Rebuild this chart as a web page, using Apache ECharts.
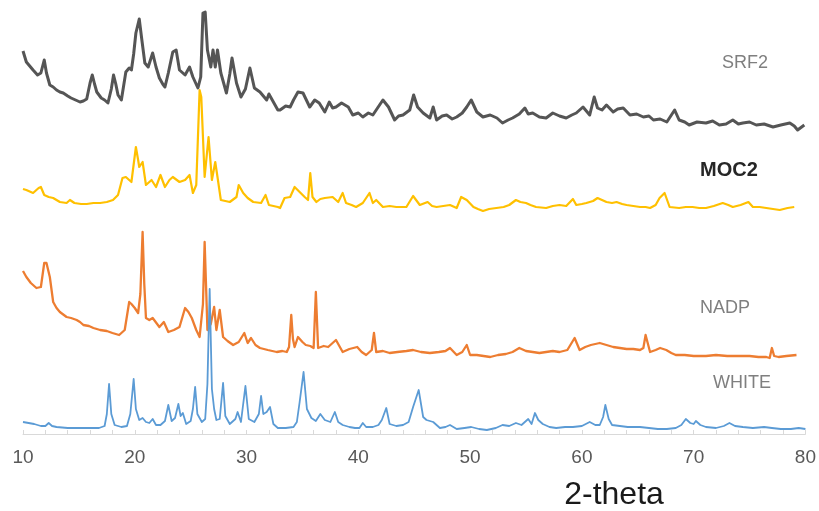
<!DOCTYPE html>
<html>
<head>
<meta charset="utf-8">
<script src="https://cdn.jsdelivr.net/npm/echarts@6/dist/echarts.min.js"></script>
<style>html,body{margin:0;padding:0;background:#fff}#c{width:819px;height:511px}</style>
</head>
<body>
<div id="c"></div>
<script>
// x: 2-theta (deg); y: intensity in offset display units (stacked patterns)
const xTicks = [10, 20, 30, 40, 50, 60, 70, 80];
const seriesNames = ['SRF2', 'MOC2', 'NADP', 'WHITE'];

const srf2 = [[10,383],[10.3,372],[10.6,368],[10.9,364],[11.3,359],[11.6,361],[11.9,374],[12.1,361],[12.4,349],[12.7,347],[13.0,344],[13.3,342],[13.6,341],[14.0,338],[14.3,336],[14.7,334],[15.1,332],[15.4,333],[15.7,335],[16.0,351],[16.2,359],[16.4,350],[16.6,342],[17.0,336],[17.3,334],[17.6,331],[17.9,345],[18.1,359],[18.3,350],[18.5,339],[18.8,334],[19.0,348],[19.2,362],[19.5,366],[19.7,364],[19.9,380],[20.1,401],[20.4,415],[20.6,397],[20.9,371],[21.2,367],[21.6,381],[21.9,367],[22.2,356],[22.5,350],[22.7,347],[23.0,361],[23.4,382],[23.7,384],[24.0,364],[24.5,359],[24.9,367],[25.2,357],[25.65,346],[25.9,357],[26.1,421],[26.3,422],[26.5,384],[26.8,367],[27.0,384],[27.2,367],[27.4,384],[27.7,361],[28.2,341],[28.5,360],[28.7,376],[29.1,351],[29.5,337],[29.9,345],[30.3,366],[30.7,346],[31.2,342],[31.8,334],[32.0,340],[32.2,336],[32.8,324],[33.0,324],[33.5,328],[33.9,327],[34.2,334],[34.6,342],[35.05,341],[35.35,334],[35.65,327],[36.1,334],[36.5,331],[37.0,322],[37.4,332],[37.7,326],[38.0,327],[38.5,331],[39.1,327],[39.5,319],[40.0,321],[40.4,317],[40.9,321],[41.3,319],[41.6,324],[42.2,334],[42.7,327],[43.25,314],[43.6,318],[44.0,319],[44.6,324],[44.95,339],[45.3,327],[45.8,321],[46.4,316],[46.7,327],[47.0,314],[47.5,318],[47.9,319],[48.4,315],[48.8,317],[49.3,321],[49.7,327],[50.1,334],[50.6,322],[51.15,317],[51.8,319],[52.4,316],[52.9,311],[53.4,314],[53.8,316],[54.4,320],[54.9,326],[55.2,320],[55.6,321],[56.2,317],[56.8,316],[57.4,321],[58.0,318],[58.6,316],[59.1,319],[59.5,321],[60.1,327],[60.7,319],[61.1,337],[61.4,326],[61.8,324],[62.2,329],[62.8,322],[63.2,325],[63.7,326],[64.3,319],[64.9,320],[65.5,317],[66.0,318],[66.4,314],[67.0,315],[67.6,312],[68.3,324],[68.7,314],[69.2,312],[69.6,309],[70.3,312],[71.1,311],[71.7,313],[72.3,309],[72.9,310],[73.5,314],[74.0,310],[74.4,311],[75.0,312],[75.6,309],[76.3,310],[77.1,307],[77.8,309],[78.6,311],[79.0,308],[79.3,304],[79.9,309]];

const moc2 = [[10,245],[10.3,244],[10.9,241],[11.4,246],[11.6,247],[11.9,239],[12.3,237],[12.7,236],[13.3,232],[13.9,231],[14.2,234],[14.6,231],[15.2,230],[15.7,230],[16.3,231],[16.9,231],[17.5,232],[18.05,234],[18.5,239],[18.9,256],[19.2,257],[19.5,254],[19.7,252],[20.1,287],[20.3,274],[20.4,267],[20.7,272],[21.0,249],[21.5,254],[21.9,247],[22.3,259],[22.7,247],[23.1,254],[23.4,257],[24.0,252],[24.5,254],[24.9,259],[25.2,241],[25.5,249],[25.8,344],[25.95,337],[26.25,257],[26.6,297],[26.9,254],[27.2,272],[27.4,257],[27.7,234],[28.1,233],[28.5,232],[29.1,237],[29.3,249],[29.7,241],[30.1,236],[30.6,232],[31.3,231],[31.7,239],[32.0,229],[32.8,227],[33.0,226],[33.4,236],[33.9,237],[34.3,247],[34.75,242],[35.2,237],[35.5,234],[35.7,261],[35.9,237],[36.25,232],[36.6,235],[37.0,236],[37.7,237],[38.2,232],[38.6,241],[38.9,231],[39.4,229],[39.8,227],[40.4,231],[41.0,241],[41.3,231],[41.6,234],[42.2,227],[42.8,228],[43.4,227],[44.3,227],[44.9,238],[45.5,229],[46.2,232],[46.6,228],[47.0,227],[47.6,228],[48.2,229],[48.8,226],[49.2,237],[49.7,234],[50.3,227],[50.7,225],[51.15,223],[51.7,225],[52.35,226],[53.0,227],[53.5,229],[54.1,234],[54.5,232],[55.0,231],[55.4,229],[55.9,227],[56.8,226],[57.4,228],[58.0,229],[58.6,228],[59.2,235],[59.5,229],[60.0,230],[60.4,231],[61.0,233],[61.4,236],[62.2,232],[62.7,231],[63.1,232],[63.6,230],[64.0,229],[64.6,228],[65.2,227],[65.7,227],[66.1,226],[66.6,229],[66.95,236],[67.4,241],[67.85,227],[68.7,226],[69.3,227],[69.9,227],[70.5,226],[71.1,226],[71.8,228],[72.6,231],[73.1,229],[73.5,227],[74.2,229],[74.9,232],[75.3,227],[75.9,227],[76.5,226],[77.1,225],[77.7,224],[78.4,226],[79.0,227]];

const nadp = [[10,163],[10.3,157],[10.7,151],[11.2,146],[11.6,147],[11.9,171],[12.1,171],[12.4,157],[12.7,132],[13.0,126],[13.3,122],[13.9,117],[14.3,116],[14.8,114],[15.1,112],[15.4,109],[15.9,108],[16.3,106],[16.9,104],[17.5,103],[18.0,101],[18.6,99],[19.1,104],[19.5,132],[19.7,130],[20.0,126],[20.3,121],[20.5,140],[20.7,202],[20.85,150],[21.0,116],[21.3,114],[21.6,116],[22.2,107],[22.6,112],[23.0,102],[23.5,104],[24.0,107],[24.5,126],[24.8,122],[25.1,116],[25.5,104],[25.8,97],[26.1,130],[26.25,192],[26.4,140],[26.5,104],[26.8,110],[27.1,127],[27.3,104],[27.6,124],[27.9,97],[28.3,93],[28.8,89],[29.3,92],[29.8,101],[30.1,91],[30.4,96],[30.8,89],[31.2,86],[31.9,84],[32.7,82],[33.2,83],[33.6,82],[33.8,87],[34.0,119],[34.15,95],[34.3,87],[34.6,97],[35.0,92],[35.3,89],[35.7,88],[36.0,86],[36.2,142],[36.4,86],[36.9,88],[37.3,87],[38.0,94],[38.6,82],[39.2,85],[39.9,87],[40.3,82],[40.7,79],[41.2,84],[41.4,101],[41.6,82],[42.2,83],[42.8,81],[43.5,82],[44.3,83],[44.9,84],[45.6,82],[46.4,81],[47.2,82],[47.8,83],[48.2,86],[48.8,79],[49.3,82],[49.7,89],[50.0,79],[50.6,79],[51.2,78],[51.8,77],[52.5,79],[53.2,80],[53.8,82],[54.4,86],[55.0,83],[55.6,82],[56.2,81],[56.8,82],[57.4,83],[58.0,82],[58.7,84],[59.35,96],[59.8,84],[60.3,87],[60.8,89],[61.6,91],[62.2,89],[62.8,87],[63.4,86],[64.0,85],[64.6,85],[65.2,84],[65.5,86],[65.7,99],[66.1,82],[66.6,84],[67.0,86],[67.55,84],[68.0,81],[68.4,79],[69.2,79],[70.0,78],[71.1,78],[72.0,79],[73.0,78],[74.1,78],[75.0,78],[75.8,77],[76.5,77],[76.8,76],[77.0,86],[77.2,78],[77.6,77],[78.3,78],[79.2,79]];

const white = [[10,12],[10.5,11],[11,10],[11.6,8],[12.0,8],[12.3,11],[12.6,8],[13,7],[14,6],[15,6],[16,6],[16.8,6],[17.3,8],[17.5,20],[17.7,50],[17.9,20],[18.2,9],[18.8,7],[19.3,8],[19.6,20],[19.9,55],[20.1,25],[20.4,14],[20.7,16],[21.0,12],[21.3,11],[21.6,15],[21.9,9],[22.3,9],[22.7,13],[23.0,29],[23.3,13],[23.6,16],[23.9,30],[24.1,18],[24.3,21],[24.6,10],[25.0,13],[25.2,25],[25.4,47],[25.6,20],[26.0,12],[26.3,15],[26.5,50],[26.7,145],[26.9,45],[27.1,25],[27.3,14],[27.6,15],[27.9,51],[28.1,18],[28.5,10],[29.0,15],[29.2,22],[29.5,12],[29.9,48],[30.2,15],[30.7,12],[31.1,20],[31.3,38],[31.5,20],[31.8,22],[32.1,27],[32.4,10],[32.8,6],[33.5,6],[34.2,7],[34.5,12],[34.75,32],[35.1,62],[35.4,25],[35.8,16],[36.2,13],[36.6,20],[37.0,14],[37.5,12],[37.9,22],[38.2,12],[38.6,9],[39.2,7],[39.7,6],[40.1,6],[40.4,11],[40.7,7],[41.3,7],[41.8,9],[42.1,14],[42.5,26],[42.8,10],[43.4,8],[44.0,9],[44.5,12],[44.9,27],[45.4,44],[45.8,17],[46.1,14],[46.7,12],[47.3,6],[47.8,7],[48.2,9],[48.8,5],[49.5,6],[50.1,7],[50.8,5],[51.5,4],[52.3,6],[52.9,9],[53.5,8],[54.1,11],[54.6,9],[55.2,15],[55.5,10],[55.8,21],[56.1,14],[56.5,10],[57.1,7],[57.7,6],[58.5,7],[59.2,7],[60.0,8],[60.7,12],[61.2,9],[61.6,9],[61.9,17],[62.1,29],[62.4,15],[62.7,9],[63.4,8],[64.1,7],[65.2,7],[66.0,6],[66.8,5],[67.6,5],[68.4,6],[68.9,9],[69.3,15],[69.7,11],[70.0,10],[70.2,13],[70.6,9],[71.1,7],[72.0,6],[72.7,8],[73.2,11],[73.7,8],[74.4,7],[75.3,6],[76.3,7],[77.0,6],[77.8,5],[78.7,5],[79.4,6],[80,5]];

const chart = echarts.init(document.getElementById('c'), null, {renderer: 'canvas'});
const font = '"Liberation Sans", Arial, sans-serif';
const mk = (name, data, color, w) => ({
  name, type: 'line', data, symbol: 'none', smooth: false,
  lineStyle: {color, width: w, join: 'round'}, itemStyle: {color}, z: 2
});
chart.setOption({
  animation: false,
  backgroundColor: '#ffffff',
  grid: {left: 23, right: 13, top: 0, bottom: 77},
  xAxis: {
    type: 'value', min: xTicks[0], max: xTicks[xTicks.length - 1], interval: 10,
    axisLine: {show: true, lineStyle: {color: '#d9d9d9', width: 1}},
    axisTick: {show: true, inside: true, length: 4, lineStyle: {color: '#d9d9d9'}},
    minorTick: {show: true, splitNumber: 5, length: 4, lineStyle: {color: '#d9d9d9'}},
    splitLine: {show: false},
    axisLabel: {fontSize: 19, color: '#595959', margin: 14, fontFamily: font}
  },
  yAxis: {type: 'value', min: 0, max: 434, show: false, splitLine: {show: false}},
  series: [
    mk(seriesNames[0], srf2, '#555555', 3),
    mk(seriesNames[1], moc2, '#FFC000', 2.2),
    mk(seriesNames[2], nadp, '#ED7D31', 2.3),
    mk(seriesNames[3], white, '#5B9BD5', 1.8)
  ],
  graphic: [
    {type: 'text', style: {x: 745, y: 63, text: seriesNames[0], fill: '#7f7f7f', font: '18px ' + font, textAlign: 'center', textVerticalAlign: 'middle'}},
    {type: 'text', style: {x: 729, y: 170, text: seriesNames[1], fill: '#262626', font: 'bold 20px ' + font, textAlign: 'center', textVerticalAlign: 'middle'}},
    {type: 'text', style: {x: 725, y: 308, text: seriesNames[2], fill: '#7f7f7f', font: '18px ' + font, textAlign: 'center', textVerticalAlign: 'middle'}},
    {type: 'text', style: {x: 742, y: 383, text: seriesNames[3], fill: '#7f7f7f', font: '18px ' + font, textAlign: 'center', textVerticalAlign: 'middle'}},
    {type: 'text', style: {x: 614, y: 495, text: '2-theta', fill: '#1a1a1a', font: '32px ' + font, textAlign: 'center', textVerticalAlign: 'middle'}}
  ]
});
</script>
</body>
</html>
